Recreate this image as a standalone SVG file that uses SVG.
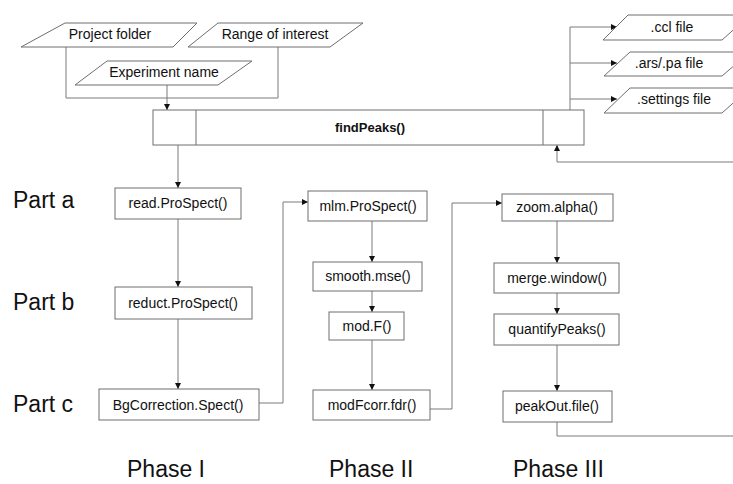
<svg xmlns="http://www.w3.org/2000/svg" width="733" height="484" viewBox="0 0 733 484">
<defs>
<marker id="arr" markerUnits="userSpaceOnUse" markerWidth="7" markerHeight="7" refX="6" refY="3" orient="auto">
<path d="M0,0 L6,3 L0,6 z" fill="#111"/>
</marker>
<style>
.box{fill:#fff;stroke:#6e6e6e;stroke-width:1}
.io{fill:#fff;stroke:#6e6e6e;stroke-width:1}
.t{font-family:"Liberation Sans",Arial,sans-serif;font-size:14px;fill:#111;text-anchor:middle}
.tb{font-family:"Liberation Sans",Arial,sans-serif;font-size:13px;font-weight:bold;fill:#111;text-anchor:middle}
.lbl{font-family:"Liberation Sans",Arial,sans-serif;font-size:23px;fill:#111}
.c{fill:none;stroke:#7a7a7a;stroke-width:1}
.ca{fill:none;stroke:#7a7a7a;stroke-width:1;marker-end:url(#arr)}
</style>
</defs>
<rect width="733" height="484" fill="#fff"/>

<g id="connectors">
<polyline class="c" points="66,47 66,98 278,98 278,47"/>
<line class="ca" x1="167" y1="85" x2="167" y2="110"/>
<line class="ca" x1="178" y1="145" x2="178" y2="188"/>
<line class="ca" x1="178" y1="219" x2="178" y2="287"/>
<line class="ca" x1="178" y1="319" x2="178" y2="389"/>
<polyline class="ca" points="259,403 283,403 283,202 308,202"/>
<line class="ca" x1="372" y1="221" x2="372" y2="262"/>
<line class="ca" x1="372" y1="291" x2="372" y2="312"/>
<line class="ca" x1="372" y1="340" x2="372" y2="390"/>
<polyline class="ca" points="430,409 452,409 452,203 502,203"/>
<line class="ca" x1="557" y1="221" x2="557" y2="263"/>
<line class="ca" x1="557" y1="293" x2="557" y2="314"/>
<line class="ca" x1="557" y1="345" x2="557" y2="391"/>
<polyline class="c" points="557,422 557,436 733,436"/>
<polyline class="ca" points="733,162 557,162 557,145"/>
<line class="c" x1="570" y1="110" x2="570" y2="27"/>
<line class="ca" x1="570" y1="27" x2="617" y2="27"/>
<line class="ca" x1="570" y1="63" x2="617" y2="63"/>
<line class="ca" x1="570" y1="99" x2="617" y2="99"/>
</g>

<g id="project-folder">
<polygon class="io" points="65,23 197,23 173,47 21,47"/>
<text class="t" x="110" y="39">Project folder</text>
</g>
<g id="range-of-interest">
<polygon class="io" points="218,23 363,23 330,47 188,47"/>
<text class="t" x="275" y="39">Range of interest</text>
</g>
<g id="experiment-name">
<polygon class="io" points="107,61 252,61 218,85 75,85"/>
<text class="t" x="164" y="77">Experiment name</text>
</g>

<g id="findPeaks">
<rect class="box" x="153" y="110" width="431" height="35"/>
<line class="box" x1="196" y1="110" x2="196" y2="145"/>
<line class="box" x1="543" y1="110" x2="543" y2="145"/>
<text class="tb" x="370" y="132">findPeaks()</text>
</g>

<g id="ccl-file">
<polygon class="io" points="628,15 750,15 722,40 603,40"/>
<text class="t" x="672" y="32">.ccl file</text>
</g>
<g id="ars-pa-file">
<polygon class="io" points="630,52 750,52 722,76 604,76"/>
<text class="t" x="669" y="68">.ars/.pa file</text>
</g>
<g id="settings-file">
<polygon class="io" points="630,88 750,88 722,113 604,113"/>
<text class="t" x="674" y="104">.settings file</text>
</g>

<g id="read-ProSpect">
<rect class="box" x="115" y="188" width="126" height="31"/>
<text class="t" x="178" y="208">read.ProSpect()</text>
</g>
<g id="reduct-ProSpect">
<rect class="box" x="115" y="287" width="137" height="32"/>
<text class="t" x="183" y="308">reduct.ProSpect()</text>
</g>
<g id="BgCorrection-Spect">
<rect class="box" x="99" y="389" width="160" height="31"/>
<text class="t" x="178" y="410">BgCorrection.Spect()</text>
</g>

<g id="mlm-ProSpect">
<rect class="box" x="308" y="191" width="119" height="30"/>
<text class="t" x="368" y="211">mlm.ProSpect()</text>
</g>
<g id="smooth-mse">
<rect class="box" x="313" y="262" width="109" height="29"/>
<text class="t" x="368" y="281">smooth.mse()</text>
</g>
<g id="mod-F">
<rect class="box" x="329" y="312" width="75" height="28"/>
<text class="t" x="367" y="331">mod.F()</text>
</g>
<g id="modFcorr-fdr">
<rect class="box" x="313" y="390" width="117" height="30"/>
<text class="t" x="372" y="410">modFcorr.fdr()</text>
</g>

<g id="zoom-alpha">
<rect class="box" x="502" y="194" width="111" height="27"/>
<text class="t" x="557" y="212">zoom.alpha()</text>
</g>
<g id="merge-window">
<rect class="box" x="494" y="263" width="125" height="30"/>
<text class="t" x="557" y="283">merge.window()</text>
</g>
<g id="quantifyPeaks">
<rect class="box" x="494" y="314" width="125" height="31"/>
<text class="t" x="557" y="334">quantifyPeaks()</text>
</g>
<g id="peakOut-file">
<rect class="box" x="503" y="391" width="109" height="31"/>
<text class="t" x="557" y="411">peakOut.file()</text>
</g>

<g id="labels">
<text class="lbl" x="13" y="208">Part a</text>
<text class="lbl" x="13" y="310">Part b</text>
<text class="lbl" x="13" y="412">Part c</text>
<text class="lbl" x="127" y="477">Phase I</text>
<text class="lbl" x="329" y="477">Phase II</text>
<text class="lbl" x="513" y="477">Phase III</text>
</g>
</svg>
